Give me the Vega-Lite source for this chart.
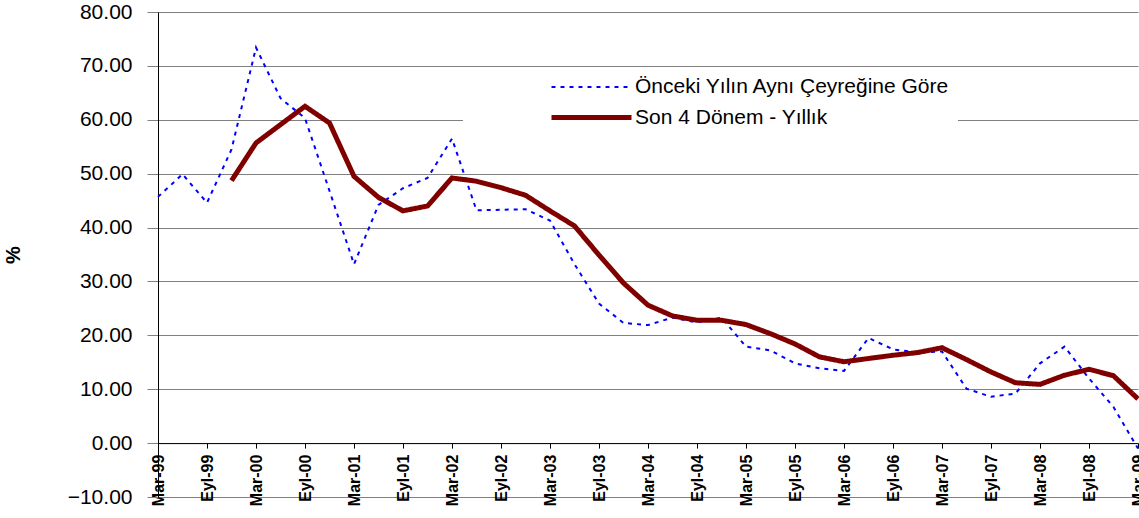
{
  "$schema": "https://vega.github.io/schema/vega-lite/v6.json",
  "width": 980,
  "height": 485,
  "autosize": "none",
  "padding": {"left": 158, "top": 12, "right": 1, "bottom": 21},
  "background": "white",
  "config": {"view": {"stroke": null}, "font": "Liberation Sans"},
  "data": {"values": [
    {"donem": "Mar-99", "seri": "Önceki Yılın Aynı Çeyreğine Göre", "deger": 45.7},
    {"donem": "Haz-99", "seri": "Önceki Yılın Aynı Çeyreğine Göre", "deger": 49.9},
    {"donem": "Eyl-99", "seri": "Önceki Yılın Aynı Çeyreğine Göre", "deger": 44.6},
    {"donem": "Ara-99", "seri": "Önceki Yılın Aynı Çeyreğine Göre", "deger": 54.5},
    {"donem": "Mar-00", "seri": "Önceki Yılın Aynı Çeyreğine Göre", "deger": 73.4},
    {"donem": "Haz-00", "seri": "Önceki Yılın Aynı Çeyreğine Göre", "deger": 64.0},
    {"donem": "Eyl-00", "seri": "Önceki Yılın Aynı Çeyreğine Göre", "deger": 60.3},
    {"donem": "Ara-00", "seri": "Önceki Yılın Aynı Çeyreğine Göre", "deger": 46.8},
    {"donem": "Mar-01", "seri": "Önceki Yılın Aynı Çeyreğine Göre", "deger": 33.2},
    {"donem": "Haz-01", "seri": "Önceki Yılın Aynı Çeyreğine Göre", "deger": 44.2},
    {"donem": "Eyl-01", "seri": "Önceki Yılın Aynı Çeyreğine Göre", "deger": 47.3},
    {"donem": "Ara-01", "seri": "Önceki Yılın Aynı Çeyreğine Göre", "deger": 49.2},
    {"donem": "Mar-02", "seri": "Önceki Yılın Aynı Çeyreğine Göre", "deger": 56.5},
    {"donem": "Haz-02", "seri": "Önceki Yılın Aynı Çeyreğine Göre", "deger": 43.2},
    {"donem": "Eyl-02", "seri": "Önceki Yılın Aynı Çeyreğine Göre", "deger": 43.3},
    {"donem": "Ara-02", "seri": "Önceki Yılın Aynı Çeyreğine Göre", "deger": 43.4},
    {"donem": "Mar-03", "seri": "Önceki Yılın Aynı Çeyreğine Göre", "deger": 41.3},
    {"donem": "Haz-03", "seri": "Önceki Yılın Aynı Çeyreğine Göre", "deger": 33.2},
    {"donem": "Eyl-03", "seri": "Önceki Yılın Aynı Çeyreğine Göre", "deger": 25.9},
    {"donem": "Ara-03", "seri": "Önceki Yılın Aynı Çeyreğine Göre", "deger": 22.3},
    {"donem": "Mar-04", "seri": "Önceki Yılın Aynı Çeyreğine Göre", "deger": 21.9},
    {"donem": "Haz-04", "seri": "Önceki Yılın Aynı Çeyreğine Göre", "deger": 23.3},
    {"donem": "Eyl-04", "seri": "Önceki Yılın Aynı Çeyreğine Göre", "deger": 22.4},
    {"donem": "Ara-04", "seri": "Önceki Yılın Aynı Çeyreğine Göre", "deger": 23.3},
    {"donem": "Mar-05", "seri": "Önceki Yılın Aynı Çeyreğine Göre", "deger": 17.9},
    {"donem": "Haz-05", "seri": "Önceki Yılın Aynı Çeyreğine Göre", "deger": 17.2},
    {"donem": "Eyl-05", "seri": "Önceki Yılın Aynı Çeyreğine Göre", "deger": 14.8},
    {"donem": "Ara-05", "seri": "Önceki Yılın Aynı Çeyreğine Göre", "deger": 13.9},
    {"donem": "Mar-06", "seri": "Önceki Yılın Aynı Çeyreğine Göre", "deger": 13.4},
    {"donem": "Haz-06", "seri": "Önceki Yılın Aynı Çeyreğine Göre", "deger": 19.5},
    {"donem": "Eyl-06", "seri": "Önceki Yılın Aynı Çeyreğine Göre", "deger": 17.4},
    {"donem": "Ara-06", "seri": "Önceki Yılın Aynı Çeyreğine Göre", "deger": 16.8},
    {"donem": "Mar-07", "seri": "Önceki Yılın Aynı Çeyreğine Göre", "deger": 17.0},
    {"donem": "Haz-07", "seri": "Önceki Yılın Aynı Çeyreğine Göre", "deger": 10.1},
    {"donem": "Eyl-07", "seri": "Önceki Yılın Aynı Çeyreğine Göre", "deger": 8.6},
    {"donem": "Ara-07", "seri": "Önceki Yılın Aynı Çeyreğine Göre", "deger": 9.2},
    {"donem": "Mar-08", "seri": "Önceki Yılın Aynı Çeyreğine Göre", "deger": 14.8},
    {"donem": "Haz-08", "seri": "Önceki Yılın Aynı Çeyreğine Göre", "deger": 17.9},
    {"donem": "Eyl-08", "seri": "Önceki Yılın Aynı Çeyreğine Göre", "deger": 12.0},
    {"donem": "Ara-08", "seri": "Önceki Yılın Aynı Çeyreğine Göre", "deger": 6.7},
    {"donem": "Mar-09", "seri": "Önceki Yılın Aynı Çeyreğine Göre", "deger": -1.0},
    {"donem": "Ara-99", "seri": "Son 4 Dönem  - Yıllık", "deger": 48.7},
    {"donem": "Mar-00", "seri": "Son 4 Dönem  - Yıllık", "deger": 55.7},
    {"donem": "Haz-00", "seri": "Son 4 Dönem  - Yıllık", "deger": 59.1},
    {"donem": "Eyl-00", "seri": "Son 4 Dönem  - Yıllık", "deger": 62.5},
    {"donem": "Ara-00", "seri": "Son 4 Dönem  - Yıllık", "deger": 59.4},
    {"donem": "Mar-01", "seri": "Son 4 Dönem  - Yıllık", "deger": 49.5},
    {"donem": "Haz-01", "seri": "Son 4 Dönem  - Yıllık", "deger": 45.6},
    {"donem": "Eyl-01", "seri": "Son 4 Dönem  - Yıllık", "deger": 43.1},
    {"donem": "Ara-01", "seri": "Son 4 Dönem  - Yıllık", "deger": 44.0},
    {"donem": "Mar-02", "seri": "Son 4 Dönem  - Yıllık", "deger": 49.2},
    {"donem": "Haz-02", "seri": "Son 4 Dönem  - Yıllık", "deger": 48.6},
    {"donem": "Eyl-02", "seri": "Son 4 Dönem  - Yıllık", "deger": 47.4},
    {"donem": "Ara-02", "seri": "Son 4 Dönem  - Yıllık", "deger": 46.0},
    {"donem": "Mar-03", "seri": "Son 4 Dönem  - Yıllık", "deger": 43.1},
    {"donem": "Haz-03", "seri": "Son 4 Dönem  - Yıllık", "deger": 40.3},
    {"donem": "Eyl-03", "seri": "Son 4 Dönem  - Yıllık", "deger": 34.9},
    {"donem": "Ara-03", "seri": "Son 4 Dönem  - Yıllık", "deger": 29.7},
    {"donem": "Mar-04", "seri": "Son 4 Dönem  - Yıllık", "deger": 25.6},
    {"donem": "Haz-04", "seri": "Son 4 Dönem  - Yıllık", "deger": 23.6},
    {"donem": "Eyl-04", "seri": "Son 4 Dönem  - Yıllık", "deger": 22.8},
    {"donem": "Ara-04", "seri": "Son 4 Dönem  - Yıllık", "deger": 22.8},
    {"donem": "Mar-05", "seri": "Son 4 Dönem  - Yıllık", "deger": 22.0},
    {"donem": "Haz-05", "seri": "Son 4 Dönem  - Yıllık", "deger": 20.3},
    {"donem": "Eyl-05", "seri": "Son 4 Dönem  - Yıllık", "deger": 18.4},
    {"donem": "Ara-05", "seri": "Son 4 Dönem  - Yıllık", "deger": 16.0},
    {"donem": "Mar-06", "seri": "Son 4 Dönem  - Yıllık", "deger": 15.1},
    {"donem": "Haz-06", "seri": "Son 4 Dönem  - Yıllık", "deger": 15.7},
    {"donem": "Eyl-06", "seri": "Son 4 Dönem  - Yıllık", "deger": 16.3},
    {"donem": "Ara-06", "seri": "Son 4 Dönem  - Yıllık", "deger": 16.8},
    {"donem": "Mar-07", "seri": "Son 4 Dönem  - Yıllık", "deger": 17.7},
    {"donem": "Haz-07", "seri": "Son 4 Dönem  - Yıllık", "deger": 15.5},
    {"donem": "Eyl-07", "seri": "Son 4 Dönem  - Yıllık", "deger": 13.2},
    {"donem": "Ara-07", "seri": "Son 4 Dönem  - Yıllık", "deger": 11.2},
    {"donem": "Mar-08", "seri": "Son 4 Dönem  - Yıllık", "deger": 10.9},
    {"donem": "Haz-08", "seri": "Son 4 Dönem  - Yıllık", "deger": 12.6},
    {"donem": "Eyl-08", "seri": "Son 4 Dönem  - Yıllık", "deger": 13.7},
    {"donem": "Ara-08", "seri": "Son 4 Dönem  - Yıllık", "deger": 12.5},
    {"donem": "Mar-09", "seri": "Son 4 Dönem  - Yıllık", "deger": 8.2}
  ]},
  "encoding": {
    "x": {
      "field": "donem", "type": "ordinal", "sort": null,
      "scale": {"type": "point", "padding": 0},
      "axis": {
        "title": null, "offset": -53.9, "grid": false,
        "values": ["Mar-99","Eyl-99","Mar-00","Eyl-00","Mar-01","Eyl-01","Mar-02","Eyl-02","Mar-03","Eyl-03","Mar-04","Eyl-04","Mar-05","Eyl-05","Mar-06","Eyl-06","Mar-07","Eyl-07","Mar-08","Eyl-08","Mar-09"],
        "labelAngle": -90, "labelFontSize": 16, "labelFontWeight": "bold", "labelColor": "black",
        "labelPadding": 6, "tickSize": 5, "tickColor": "black", "domainColor": "black",
        "labelOverlap": false, "labelBound": false, "labelFlush": false
      }
    },
    "y": {
      "field": "deger", "type": "quantitative",
      "scale": {"domain": [-10, 80], "nice": false, "zero": false},
      "axis": {
        "title": "%", "titleFontSize": 20, "titleFontWeight": "bold", "titleColor": "black", "titlePadding": 44,
        "values": [-10, 0, 10, 20, 30, 40, 50, 60, 70, 80], "format": ".2f",
        "labelFontSize": 21, "labelColor": "black", "labelPadding": 15,
        "tickSize": 11, "tickColor": "#808080", "domainColor": "black",
        "grid": true, "gridColor": "#808080", "gridWidth": 1
      }
    }
  },
  "layer": [
    {
      "transform": [{"filter": "datum.seri === 'Önceki Yılın Aynı Çeyreğine Göre'"}],
      "mark": {"type": "line"},
      "encoding": {
        "color": {"field": "seri", "type": "nominal",
          "scale": {"domain": ["Önceki Yılın Aynı Çeyreğine Göre", "Son 4 Dönem  - Yıllık"], "range": ["#0000ff", "#800000"]},
          "legend": {"orient": "none", "legendX": 305, "legendY": 56, "title": null,
            "symbolType": "M-4,0H4", "symbolSize": 400, "symbolOffset": 108,
            "labelFontSize": 21, "labelColor": "black", "labelOffset": 31, "labelLimit": 600,
            "rowPadding": 8, "fillColor": "white", "padding": 8}},
        "strokeDash": {"field": "seri", "type": "nominal",
          "scale": {"domain": ["Önceki Yılın Aynı Çeyreğine Göre", "Son 4 Dönem  - Yıllık"], "range": [[4, 5], [1, 0]]}},
        "strokeWidth": {"field": "seri", "type": "nominal",
          "scale": {"domain": ["Önceki Yılın Aynı Çeyreğine Göre", "Son 4 Dönem  - Yıllık"], "range": [2, 5]}}
      }
    },
    {
      "transform": [{"filter": "datum.seri === 'Son 4 Dönem  - Yıllık'"}],
      "mark": {"type": "line"},
      "encoding": {
        "color": {"field": "seri", "type": "nominal"},
        "strokeDash": {"field": "seri", "type": "nominal"},
        "strokeWidth": {"field": "seri", "type": "nominal"}
      }
    }
  ]
}
